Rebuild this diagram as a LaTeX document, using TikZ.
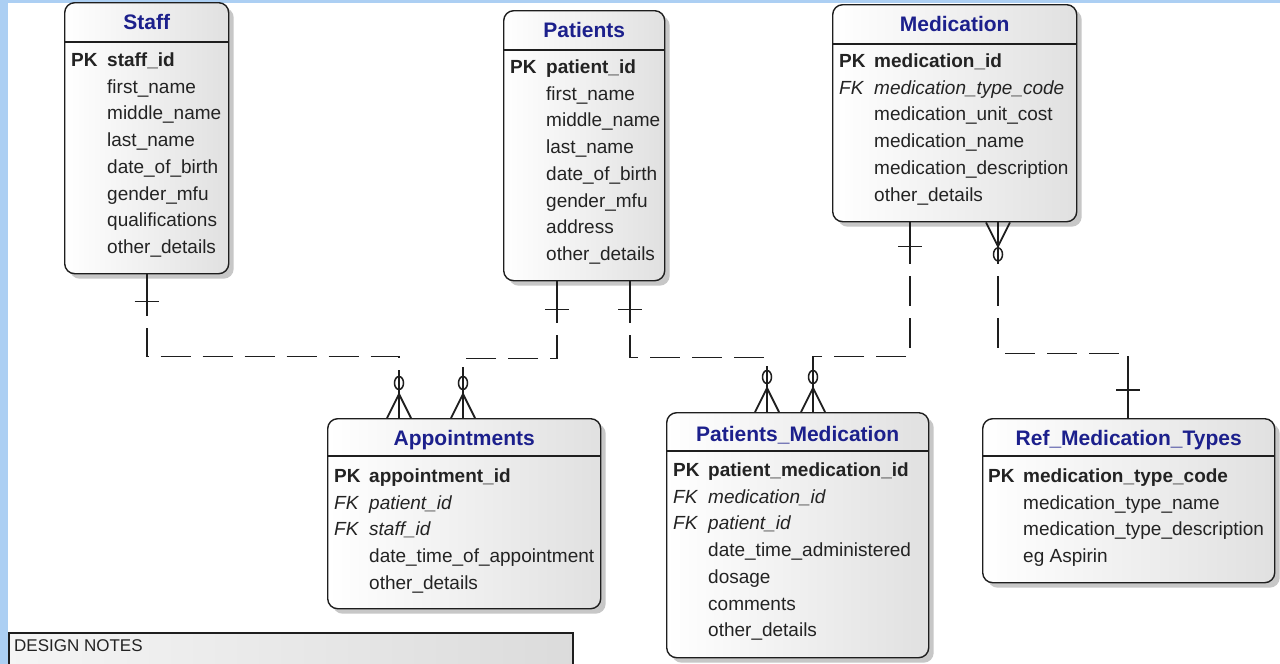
\documentclass[tikz,border=0pt]{standalone}
\usepackage{fontspec}
\setmainfont{Liberation Sans}
\usetikzlibrary{shadows,calc}
\definecolor{bgblue}{RGB}{172,207,243}
\definecolor{ttl}{RGB}{28,32,140}
\definecolor{txt}{RGB}{35,35,35}
\definecolor{ln}{RGB}{30,30,30}
\tikzset{
  entity/.style={rectangle, rounded corners=10pt, draw=ln, line width=1.4pt,
    left color=white, right color=black!12, inner sep=0pt, anchor=north west,
    drop shadow={shadow xshift=5pt, shadow yshift=-5pt, fill=black!40, opacity=0.55}},
  notes/.style={rectangle, draw=ln, line width=1.8pt, left color=black!4, right color=black!14,
    inner sep=0pt, anchor=north west},
  ttlstyle/.style={font=\fontsize{21}{24}\selectfont\bfseries, text=ttl, inner sep=0pt},
  fld/.style={font=\fontsize{19}{22}\selectfont, text=txt, anchor=west, inner sep=0pt,
    text height=14pt, text depth=4pt, yshift=-1.5pt},
  pkf/.style={fld, font=\fontsize{19}{22}\selectfont\bfseries},
  fkf/.style={fld, font=\fontsize{19}{22}\selectfont\itshape},
  hdr/.style={draw=ln, line width=1.4pt},
  rel/.style={draw=ln, line width=1.8pt, dash pattern=on 30pt off 12pt, dash phase=30pt},
  relend/.style={draw=ln, line width=1.8pt},
}
\begin{document}
\begin{tikzpicture}[x=1pt,y=-1pt]
\useasboundingbox (0,0) rectangle (1280,664);
\fill[bgblue] (0,0) rectangle (1280,664);
\fill[white] (8,3) rectangle (1280,664);

% ---------- Staff ----------
\node[entity, minimum width=164pt, minimum height=271pt] (staff) at (64,2) {};
\draw[hdr] ($(staff.north west)+(0,40)$) -- ($(staff.north east)+(0,40)$);
\node[ttlstyle] (staffT) at ($(staff.north)+(0,20)$) {Staff};
\node[pkf] (staffPK) at (71,60) {PK};
\node[pkf] (staffK) at (107,60) {staff\_id};
\foreach \t [count=\i] in {first\_name, middle\_name, last\_name, date\_of\_birth, gender\_mfu, qualifications, other\_details}
  \node[fld] (staffF\i) at (107,60+26.7*\i) {\t};

% ---------- Patients ----------
\node[entity, minimum width=161pt, minimum height=270pt] (patients) at (503,10) {};
\draw[hdr] ($(patients.north west)+(0,40)$) -- ($(patients.north east)+(0,40)$);
\node[ttlstyle] (patT) at ($(patients.north)+(0,20)$) {Patients};
\node[pkf] (patPK) at (510,67) {PK};
\node[pkf] (patK) at (546,67) {patient\_id};
\foreach \t [count=\i] in {first\_name, middle\_name, last\_name, date\_of\_birth, gender\_mfu, address, other\_details}
  \node[fld] (patF\i) at (546,67+26.7*\i) {\t};

% ---------- Medication ----------
\node[entity, minimum width=244pt, minimum height=217pt] (medication) at (832,4) {};
\draw[hdr] ($(medication.north west)+(0,40)$) -- ($(medication.north east)+(0,40)$);
\node[ttlstyle] (medT) at ($(medication.north)+(0,20)$) {Medication};
\node[pkf] (medPK) at (839,61) {PK};
\node[pkf] (medK) at (874,61) {medication\_id};
\node[fkf] (medFK) at (839,87.7) {FK};
\node[fkf] (medFKn) at (874,87.7) {medication\_type\_code};
\foreach \t [count=\i from 2] in {medication\_unit\_cost, medication\_name, medication\_description, other\_details}
  \node[fld] (medF\i) at (874,61+26.7*\i) {\t};

% ---------- Appointments ----------
\node[entity, minimum width=273pt, minimum height=190pt] (appt) at (327,418) {};
\draw[hdr] ($(appt.north west)+(0,38)$) -- ($(appt.north east)+(0,38)$);
\node[ttlstyle] (apptT) at ($(appt.north)+(0,22)$) {Appointments};
\node[pkf] (apptPK) at (334,476) {PK};
\node[pkf] (apptK) at (369,476) {appointment\_id};
\node[fkf] (apptFK1) at (334,502.7) {FK};
\node[fkf] (apptFK1n) at (369,502.7) {patient\_id};
\node[fkf] (apptFK2) at (334,529.4) {FK};
\node[fkf] (apptFK2n) at (369,529.4) {staff\_id};
\node[fld] (apptF3) at (369,556.1) {date\_time\_of\_appointment};
\node[fld] (apptF4) at (369,582.8) {other\_details};

% ---------- Patients_Medication ----------
\node[entity, minimum width=262pt, minimum height=245pt] (pm) at (666,412) {};
\draw[hdr] ($(pm.north west)+(0,39)$) -- ($(pm.north east)+(0,39)$);
\node[ttlstyle] (pmT) at ($(pm.north)+(0,23)$) {Patients\_Medication};
\node[pkf] (pmPK) at (673,470) {PK};
\node[pkf] (pmK) at (708,470) {patient\_medication\_id};
\node[fkf] (pmFK1) at (673,496.7) {FK};
\node[fkf] (pmFK1n) at (708,496.7) {medication\_id};
\node[fkf] (pmFK2) at (673,523.4) {FK};
\node[fkf] (pmFK2n) at (708,523.4) {patient\_id};
\foreach \t [count=\i from 3] in {date\_time\_administered, dosage, comments, other\_details}
  \node[fld] (pmF\i) at (708,470+26.7*\i) {\t};

% ---------- Ref_Medication_Types ----------
\node[entity, minimum width=292pt, minimum height=164pt] (ref) at (982,418) {};
\draw[hdr] ($(ref.north west)+(0,38)$) -- ($(ref.north east)+(0,38)$);
\node[ttlstyle] (refT) at ($(ref.north)+(0,22)$) {Ref\_Medication\_Types};
\node[pkf] (refPK) at (988,476) {PK};
\node[pkf] (refK) at (1023,476) {medication\_type\_code};
\foreach \t [count=\i] in {medication\_type\_name, medication\_type\_description, eg Aspirin}
  \node[fld] (refF\i) at (1023,476+26.7*\i) {\t};

% ---------- Design notes ----------
\node[notes, minimum width=564pt, minimum height=60pt] (notes) at (8,632) {};
\node[anchor=west, inner sep=0pt, font=\fontsize{17}{20}\selectfont, text=txt] (notesT)
  at ($(notes.north west)+(6,14)$) {DESIGN NOTES};

% ---------- Relationships ----------
% Staff -> Appointments
\draw[rel] (staff.south) -- ++(0,82) -| ($(appt.north west)+(72,0)$);
% Patients -> Appointments
\draw[rel] ($(patients.south west)+(54,0)$) -- ++(0,77) -| ($(appt.north west)+(136,0)$);
% Patients -> Patients_Medication
\draw[rel] ($(patients.south west)+(127,0)$) -- ++(0,76) -| ($(pm.north west)+(101,0)$);
% Medication -> Patients_Medication
\draw[rel] ($(medication.south west)+(78,0)$) -- ++(0,134) -| ($(pm.north west)+(147,0)$);
% Ref_Medication_Types -> Medication
\draw[rel] ($(medication.south west)+(166,0)$) -- ++(0,131) -| ($(ref.north west)+(146,0)$);

% ---------- "one" bars ----------
\draw[relend] (staff.south) -- ++(0,33);
\draw[relend] ($(staff.south)+(-12,27)$) -- ++(24,0);
\draw[relend] ($(patients.south west)+(54,0)$) -- ++(0,34);
\draw[relend] ($(patients.south west)+(42,28)$) -- ++(24,0);
\draw[relend] ($(patients.south west)+(127,0)$) -- ++(0,34);
\draw[relend] ($(patients.south west)+(115,28)$) -- ++(24,0);
\draw[relend] ($(medication.south west)+(78,0)$) -- ++(0,30);
\draw[relend] ($(medication.south west)+(66,24)$) -- ++(24,0);
\draw[relend] ($(ref.north west)+(146,0)$) -- ++(0,-36);
\draw[relend] ($(ref.north west)+(134,-28)$) -- ++(24,0);

% ---------- crow's feet with zero ----------
\foreach \o in {72,136} {
  \draw[relend] ($(appt.north west)+(\o,0)$) -- ++(0,-46);
  \draw[relend] ($(appt.north west)+(\o-12,0)$) -- ($(appt.north west)+(\o,-24)$) -- ($(appt.north west)+(\o+12,0)$);
  \draw[draw=ln, line width=1.5pt] ($(appt.north west)+(\o,-35)$) ellipse (4.5 and 6.5);
}
\foreach \o in {101,147} {
  \draw[relend] ($(pm.north west)+(\o,0)$) -- ++(0,-46);
  \draw[relend] ($(pm.north west)+(\o-12,0)$) -- ($(pm.north west)+(\o,-24)$) -- ($(pm.north west)+(\o+12,0)$);
  \draw[draw=ln, line width=1.5pt] ($(pm.north west)+(\o,-35)$) ellipse (4.5 and 6.5);
}
\draw[relend] ($(medication.south west)+(166,0)$) -- ++(0,42);
\draw[relend] ($(medication.south west)+(154,0)$) -- ($(medication.south west)+(166,24)$) -- ($(medication.south west)+(178,0)$);
\draw[draw=ln, line width=1.5pt] ($(medication.south west)+(166,32)$) ellipse (4.5 and 6.5);
\end{tikzpicture}
\end{document}
